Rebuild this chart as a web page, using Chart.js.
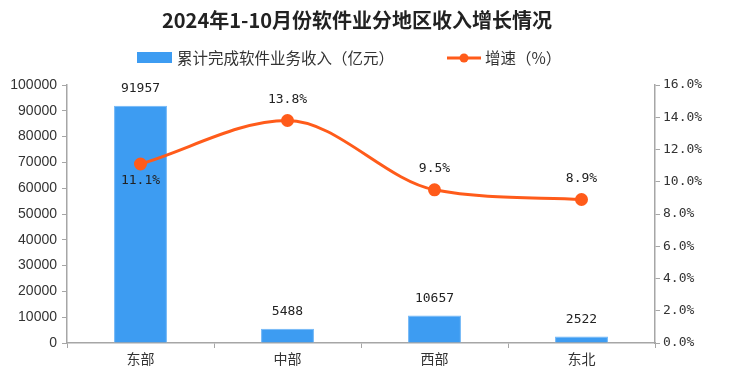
<!DOCTYPE html>
<html>
<head>
<meta charset="utf-8">
<script src="https://cdn.jsdelivr.net/npm/chart.js@4.4.1/dist/chart.umd.min.js"></script>
<style>
  html, body { margin: 0; padding: 0; background: #fff; }
  #wrap { width: 732px; height: 375px; }
</style>
</head>
<body>
<div id="wrap"><canvas id="chart"></canvas></div>
<script>
const regions = ['东部', '中部', '西部', '东北']
const revenue = [91957, 5488, 10657, 2522]
const growth = [11.1, 13.8, 9.5, 8.9]
const growthLabelBelow = [true, false, false, false]

const titleText = '2024年1-10月份软件业分地区收入增长情况'
const revenueLabel = '累计完成软件业务收入（亿元）'
const growthLabel = '增速（%）'

const BLUE = '#3d9cf2'
const ORANGE = '#ff5b1a'
const AXIS = '#a6a6a6'
const TEXT = '#333333'
const CJK = '"Noto Sans CJK SC", sans-serif'
const MONO = '"DejaVu Sans Mono", monospace'

// title, legend and value labels
const decorations = {
  id: 'decorations',
  afterDraw(chart) {
    const ctx = chart.ctx
    ctx.save()

    ctx.fillStyle = '#222'
    ctx.font = 'bold 20px ' + CJK
    ctx.textAlign = 'center'
    ctx.textBaseline = 'middle'
    ctx.fillText(titleText, 357, 20)

    // legend
    ctx.fillStyle = BLUE
    ctx.fillRect(137, 52, 35, 11)
    ctx.fillStyle = TEXT
    ctx.font = '15.5px ' + CJK
    ctx.textAlign = 'left'
    ctx.fillText(revenueLabel, 177, 58)

    ctx.strokeStyle = ORANGE
    ctx.lineWidth = 3
    ctx.beginPath()
    ctx.moveTo(447, 58)
    ctx.lineTo(481, 58)
    ctx.stroke()
    ctx.fillStyle = ORANGE
    ctx.beginPath()
    ctx.arc(464, 58, 4.5, 0, Math.PI * 2)
    ctx.fill()
    ctx.fillStyle = TEXT
    ctx.fillText(growthLabel, 485, 58)

    // value labels
    ctx.font = '13px ' + MONO
    ctx.textAlign = 'center'
    ctx.fillStyle = '#222'
    chart.getDatasetMeta(1).data.forEach((bar, i) => {
      ctx.fillText(String(revenue[i]), bar.x, bar.y - 17)
    })
    chart.getDatasetMeta(0).data.forEach((pt, i) => {
      const dy = growthLabelBelow[i] ? 17 : -21
      ctx.fillText(growth[i].toFixed(1) + '%', pt.x, pt.y + dy)
    })

    ctx.restore()
  }
}

new Chart(document.getElementById('chart'), {
  data: {
    labels: regions,
    datasets: [
      {
        type: 'line',
        label: growthLabel,
        data: growth,
        yAxisID: 'y1',
        borderColor: ORANGE,
        backgroundColor: ORANGE,
        borderWidth: 3,
        cubicInterpolationMode: 'monotone',
        pointRadius: 5,
        pointHoverRadius: 5,
        order: 0
      },
      {
        type: 'bar',
        label: revenueLabel,
        data: revenue,
        yAxisID: 'y',
        backgroundColor: BLUE,
        borderColor: '#6fb6f7',
        borderWidth: 1,
        categoryPercentage: 1,
        barPercentage: 0.36,
        order: 1
      }
    ]
  },
  options: {
    responsive: true,
    maintainAspectRatio: false,
    animation: false,
    layout: { padding: { top: 85, left: 0, right: 0, bottom: 0 } },
    plugins: {
      legend: { display: false },
      title: { display: false },
      tooltip: { enabled: false }
    },
    scales: {
      x: {
        afterFit: s => { s.height = 32 },
        grid: { display: true, drawOnChartArea: false, drawTicks: true, tickLength: 5, color: AXIS },
        border: { display: true, color: AXIS, width: 1.5 },
        ticks: { color: TEXT, font: { family: CJK, size: 14 }, padding: 2 }
      },
      y: {
        position: 'left',
        min: 0,
        max: 100000,
        afterFit: s => { s.width = 67 },
        grid: { display: true, drawOnChartArea: false, drawTicks: true, tickLength: 5, color: AXIS },
        border: { display: true, color: AXIS, width: 1.5 },
        ticks: {
          stepSize: 10000,
          color: TEXT,
          padding: 5,
          font: { family: '"Liberation Sans", Arial, sans-serif', size: 14 },
          callback: v => String(v)
        }
      },
      y1: {
        position: 'right',
        min: 0,
        max: 16,
        afterFit: s => { s.width = 77 },
        grid: { display: true, drawOnChartArea: false, drawTicks: true, tickLength: 5, color: AXIS },
        border: { display: true, color: AXIS, width: 1.5 },
        ticks: {
          stepSize: 2,
          color: TEXT,
          padding: 3,
          font: { family: MONO, size: 13 },
          callback: v => v.toFixed(1) + '%'
        }
      }
    }
  },
  plugins: [decorations]
})
</script>
</body>
</html>
